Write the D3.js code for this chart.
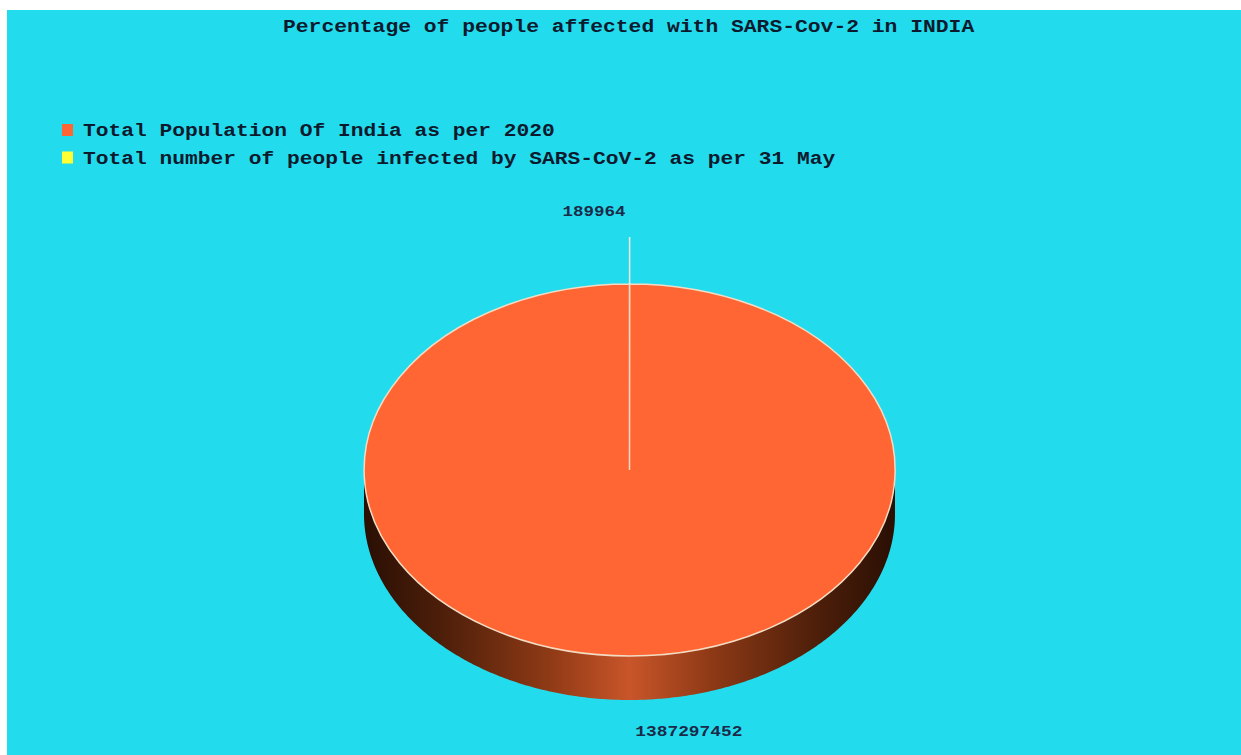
<!DOCTYPE html>
<html>
<head>
<meta charset="utf-8">
<script src="https://cdn.jsdelivr.net/npm/d3@7"></script>
<style>
  html, body { margin: 0; padding: 0; background: #ffffff; }
  svg { display: block; }
</style>
</head>
<body>
<svg id="chart" width="1241" height="755"></svg>
<script>
const title = "Percentage of people affected with SARS-Cov-2 in INDIA";
const categories = [
  "Total number of people infected by SARS-CoV-2 as per 31 May",
  "Total Population Of India as per 2020"
];
const values = [189964, 1387297452];
const colors = ["#ffff33", "#ff6633"];
const legendOrder = [1, 0];

const W = 1241, H = 755;
const svg = d3.select("#chart");

// background panel
svg.append("rect").attr("x", 7).attr("y", 10).attr("width", W - 7).attr("height", H - 10).attr("fill", "#22dcee");

const charW = 12.75;
const fontMain = "'Liberation Mono', 'DejaVu Sans Mono', monospace";

svg.append("text")
  .attr("x", 283).attr("y", 32)
  .attr("font-family", fontMain).attr("font-weight", "bold").attr("font-size", 19)
  .attr("fill", "#0d1a2e")
  .attr("textLength", title.length * 12.8).attr("lengthAdjust", "spacingAndGlyphs")
  .text(title);

// legend
const leg = svg.append("g");
legendOrder.forEach((idx, i) => {
  const y = 124 + i * 27.5;
  leg.append("rect").attr("x", 62).attr("y", y).attr("width", 11).attr("height", 12).attr("fill", colors[idx]);
  leg.append("text")
    .attr("x", 83).attr("y", y + 12)
    .attr("font-family", fontMain).attr("font-weight", "bold").attr("font-size", 19)
    .attr("fill", "#0d1a2e")
    .attr("textLength", categories[idx].length * charW).attr("lengthAdjust", "spacingAndGlyphs")
    .text(categories[idx]);
});

// 3D pie
const cx = 629.5, cy = 470, rx = 265.5, ry = 186, depth = 44;
const pie = d3.pie().sort(null).value(d => d);
const arcs = pie(values);

const defs = svg.append("defs");
const grad = defs.append("linearGradient").attr("id", "sideGrad")
  .attr("gradientUnits", "userSpaceOnUse")
  .attr("x1", cx - rx).attr("x2", cx + rx).attr("y1", 0).attr("y2", 0);
[[0, "#2a0f04"], [0.15, "#4e1f0a"], [0.35, "#8f3a16"], [0.5, "#c9552a"], [0.65, "#8f3a16"], [0.85, "#4e1f0a"], [1, "#2a0f04"]]
  .forEach(([o, c]) => grad.append("stop").attr("offset", o).attr("stop-color", c));

const px = a => cx + rx * Math.sin(a);
const py = a => cy - ry * Math.cos(a);

// sides (only front half visible: angles between PI/2 and 3PI/2)
arcs.forEach((a, i) => {
  const s = Math.max(a.startAngle, Math.PI / 2);
  const e = Math.min(a.endAngle, 3 * Math.PI / 2);
  if (e <= s) return;
  const angles = d3.range(s, e, 0.01).concat([e]);
  const top = angles.map(t => [px(t), py(t)]);
  const bottom = angles.slice().reverse().map(t => [px(t), py(t) + depth]);
  svg.append("path")
    .attr("d", d3.line()(top.concat(bottom)) + "Z")
    .attr("fill", i === 1 ? "url(#sideGrad)" : "#8a8a20");
});

// top face
const topG = svg.append("g").attr("transform", `translate(${cx},${cy}) scale(1,${ry / rx})`);
const arcGen = d3.arc().innerRadius(0).outerRadius(rx);
topG.selectAll("path").data(arcs).join("path")
  .attr("d", arcGen)
  .attr("fill", (d, i) => colors[i])
  .attr("stroke", "#f3dcc4")
  .attr("stroke-width", 1.5)
  .attr("vector-effect", "non-scaling-stroke");

// leader line for the tiny slice and labels
const small = arcs[0];
const midSmall = (small.startAngle + small.endAngle) / 2;
svg.append("line")
  .attr("x1", px(midSmall)).attr("y1", py(midSmall))
  .attr("x2", px(midSmall)).attr("y2", 237)
  .attr("stroke", "#f3efe0").attr("stroke-width", 1.5);

const labelFont = "'Liberation Mono', 'DejaVu Sans Mono', monospace";
svg.append("text")
  .attr("x", px(midSmall) - 4).attr("y", 216)
  .attr("text-anchor", "end")
  .attr("font-family", labelFont).attr("font-weight", "bold").attr("font-size", 14)
  .attr("fill", "#1b2a48")
  .attr("textLength", String(values[0]).length * 10.5).attr("lengthAdjust", "spacingAndGlyphs")
  .text(values[0]);

const big = arcs[1];
const midBig = (big.startAngle + big.endAngle) / 2;
svg.append("text")
  .attr("x", px(midBig) + 6).attr("y", py(midBig) + depth + 36)
  .attr("font-family", labelFont).attr("font-weight", "bold").attr("font-size", 14)
  .attr("fill", "#1b2a48")
  .attr("textLength", String(values[1]).length * 10.7).attr("lengthAdjust", "spacingAndGlyphs")
  .text(values[1]);
</script>
</body>
</html>
